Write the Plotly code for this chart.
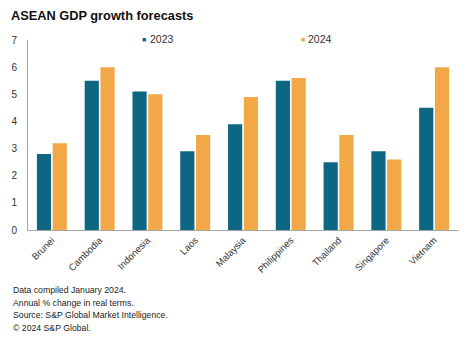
import plotly.graph_objects as go

countries = ["Brunei", "Cambodia", "Indonesia", "Laos", "Malaysia",
             "Philippines", "Thailand", "Singapore", "Vietnam"]
gdp_2023 = [2.8, 5.5, 5.1, 2.9, 3.9, 5.5, 2.5, 2.9, 4.5]
gdp_2024 = [3.2, 6.0, 5.0, 3.5, 4.9, 5.6, 3.5, 2.6, 6.0]
series_names = ["2023", "2024"]
colors = ["#0e6682", "#f2a847"]
notes = ["Data compiled January 2024.",
         "Annual % change in real terms.",
         "Source: S&P Global Market Intelligence.",
         "© 2024 S&P Global."]

fig = go.Figure()
for name, vals, col in zip(series_names, [gdp_2023, gdp_2024], colors):
    fig.add_trace(go.Bar(x=countries, y=vals, name=name, marker_color=col,
                         marker_line_width=0, showlegend=False))

font_family = "Liberation Sans, Arial, sans-serif"
fig.update_layout(
    width=474, height=349,
    margin=dict(l=28, r=16, t=40, b=119),
    paper_bgcolor="white", plot_bgcolor="white",
    font=dict(family=font_family, size=10, color="#333333"),
    barmode="group", bargap=0.34, bargroupgap=0.1,
    title=dict(text="<b>ASEAN GDP growth forecasts</b>", x=0.023, xanchor="left",
               y=0.955, yanchor="middle", font=dict(size=12.8, color="#111111")),
    showlegend=False,
    xaxis=dict(showline=True, linecolor="#a6a6a6", linewidth=1, tickangle=-45,
               ticks="", showgrid=False, tickfont=dict(size=9.5)),
    yaxis=dict(range=[0, 7], dtick=1, showline=True, linecolor="#a6a6a6",
               linewidth=1, showgrid=False, zeroline=False, ticks="",
               tickfont=dict(size=10), ticklabelstandoff=8),
)

# legend drawn as text: small square marker + label
legend_pos = [(0.2698, 0.279), (0.6395, 0.6465)]
for (mx, tx), name, col in zip(legend_pos, series_names, colors):
    fig.add_annotation(text="■", xref="paper", yref="paper", x=mx, xanchor="center",
                       y=1.005, yanchor="middle", showarrow=False,
                       font=dict(size=7, color=col))
    fig.add_annotation(text=name, xref="paper", yref="paper", x=tx, xanchor="left",
                       y=1.005, yanchor="middle", showarrow=False,
                       font=dict(size=10.5, color="#333333"))

for i, t in enumerate(notes):
    fig.add_annotation(text=t, xref="paper", yref="paper", x=-0.04, xanchor="left",
                       y=(230 - (290 + 12.7 * i)) / 190, yanchor="middle",
                       showarrow=False, font=dict(size=8.7, color="#222222"))

fig.write_html("out.html")
